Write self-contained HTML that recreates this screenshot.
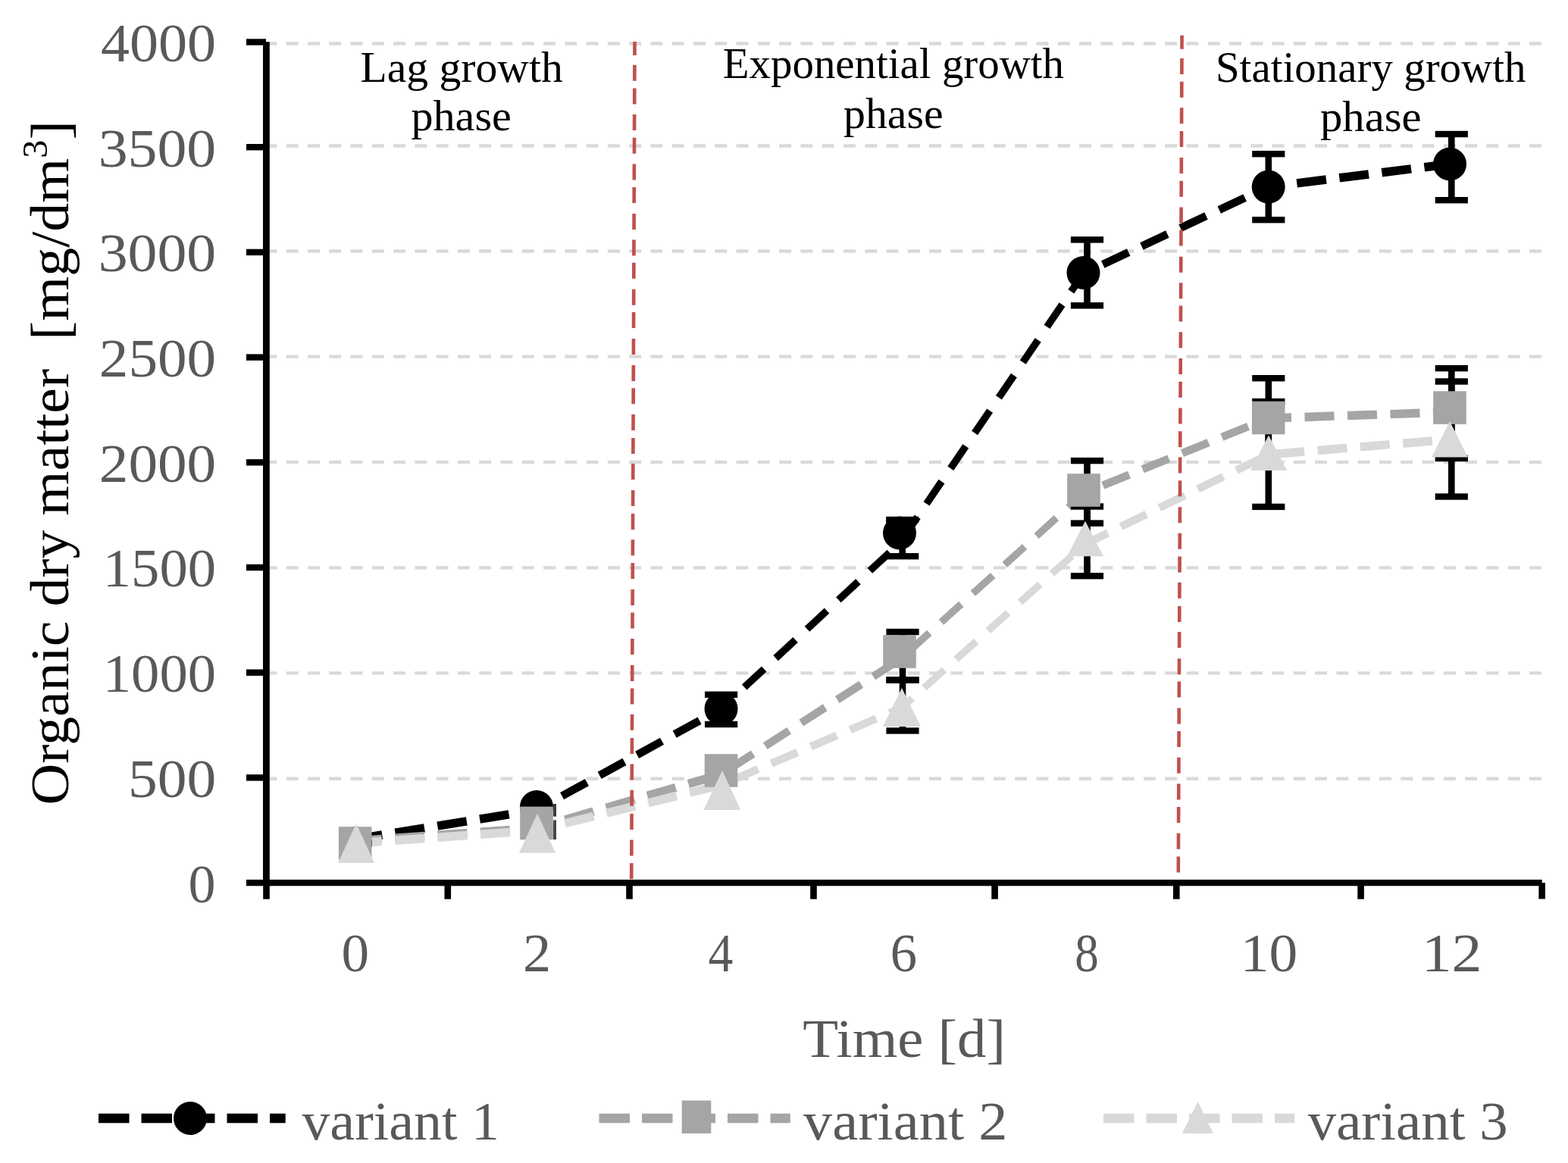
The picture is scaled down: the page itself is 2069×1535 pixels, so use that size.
<!DOCTYPE html>
<html><head><meta charset="utf-8"><title>Organic dry matter</title>
<style>
html,body{margin:0;padding:0;background:#fff;}
body{width:2069px;height:1535px;overflow:hidden;}
svg{display:block;}
</style></head>
<body>
<svg width="2069" height="1535" viewBox="0 0 2069 1535">
<rect width="2069" height="1535" fill="#fff"/>
<line x1="349.4" y1="57.5" x2="2035" y2="57.5" stroke="#d9d9d9" stroke-width="4.4" stroke-dasharray="16 12.28"/>
<line x1="349.4" y1="192.5" x2="2035" y2="192.5" stroke="#d9d9d9" stroke-width="4.4" stroke-dasharray="16 12.28"/>
<line x1="349.4" y1="331.5" x2="2035" y2="331.5" stroke="#d9d9d9" stroke-width="4.4" stroke-dasharray="16 12.28"/>
<line x1="349.4" y1="470.6" x2="2035" y2="470.6" stroke="#d9d9d9" stroke-width="4.4" stroke-dasharray="16 12.28"/>
<line x1="349.4" y1="609.9" x2="2035" y2="609.9" stroke="#d9d9d9" stroke-width="4.4" stroke-dasharray="16 12.28"/>
<line x1="349.4" y1="749.4" x2="2035" y2="749.4" stroke="#d9d9d9" stroke-width="4.4" stroke-dasharray="16 12.28"/>
<line x1="349.4" y1="888.4" x2="2035" y2="888.4" stroke="#d9d9d9" stroke-width="4.4" stroke-dasharray="16 12.28"/>
<line x1="349.4" y1="1027.8" x2="2035" y2="1027.8" stroke="#d9d9d9" stroke-width="4.4" stroke-dasharray="16 12.28"/>
<rect x="325" y="51.3" width="26" height="8.4" fill="#000000"/>
<rect x="325" y="190.0" width="26" height="8.4" fill="#000000"/>
<rect x="325" y="328.7" width="26" height="8.4" fill="#000000"/>
<rect x="325" y="467.4" width="26" height="8.4" fill="#000000"/>
<rect x="325" y="606.1" width="26" height="8.4" fill="#000000"/>
<rect x="325" y="744.8" width="26" height="8.4" fill="#000000"/>
<rect x="325" y="883.5" width="26" height="8.4" fill="#000000"/>
<rect x="325" y="1022.2" width="26" height="8.4" fill="#000000"/>
<rect x="347.2" y="1161" width="8.6" height="25.7" fill="#000000"/>
<rect x="586.5" y="1161" width="8.6" height="25.7" fill="#000000"/>
<rect x="826.2" y="1161" width="8.6" height="25.7" fill="#000000"/>
<rect x="1069.2" y="1161" width="8.6" height="25.7" fill="#000000"/>
<rect x="1308.3" y="1161" width="8.6" height="25.7" fill="#000000"/>
<rect x="1548.0" y="1161" width="8.6" height="25.7" fill="#000000"/>
<rect x="1791.3" y="1161" width="8.6" height="25.7" fill="#000000"/>
<rect x="2030.4" y="1165.2" width="8.5" height="21.3" fill="#000000"/>
<rect x="347" y="55.3" width="8.8" height="1113.9" fill="#000000"/>
<rect x="325" y="1161" width="1709.7" height="8.3" fill="#000000"/>
<text transform="translate(132.94,80.9) scale(1.0571,1)" x="0" y="0" style="font-family:'Liberation Serif',serif;font-size:72px;fill:#595959;">4000</text>
<text transform="translate(129.68,219.6) scale(1.0803,1)" x="0" y="0" style="font-family:'Liberation Serif',serif;font-size:72px;fill:#595959;">3500</text>
<text transform="translate(129.68,358.29999999999995) scale(1.0803,1)" x="0" y="0" style="font-family:'Liberation Serif',serif;font-size:72px;fill:#595959;">3000</text>
<text transform="translate(130.78,496.99999999999994) scale(1.0725,1)" x="0" y="0" style="font-family:'Liberation Serif',serif;font-size:72px;fill:#595959;">2500</text>
<text transform="translate(130.78,635.6999999999999) scale(1.0725,1)" x="0" y="0" style="font-family:'Liberation Serif',serif;font-size:72px;fill:#595959;">2000</text>
<text transform="translate(135.78,774.4) scale(1.0370,1)" x="0" y="0" style="font-family:'Liberation Serif',serif;font-size:72px;fill:#595959;">1500</text>
<text transform="translate(135.78,913.0999999999999) scale(1.0370,1)" x="0" y="0" style="font-family:'Liberation Serif',serif;font-size:72px;fill:#595959;">1000</text>
<text transform="translate(169.00,1051.8) scale(1.0762,1)" x="0" y="0" style="font-family:'Liberation Serif',serif;font-size:72px;fill:#595959;">500</text>
<text transform="translate(248.50,1190.5) scale(1.0000,1)" x="0" y="0" style="font-family:'Liberation Serif',serif;font-size:72px;fill:#595959;">0</text>
<text transform="translate(450.45,1282.4) scale(1.0167,1)" x="0" y="0" style="font-family:'Liberation Serif',serif;font-size:72px;fill:#595959;">0</text>
<text transform="translate(689.90,1282.4) scale(1.0345,1)" x="0" y="0" style="font-family:'Liberation Serif',serif;font-size:72px;fill:#595959;">2</text>
<text transform="translate(934.59,1282.4) scale(0.9118,1)" x="0" y="0" style="font-family:'Liberation Serif',serif;font-size:72px;fill:#595959;">4</text>
<text transform="translate(1174.86,1282.4) scale(0.9806,1)" x="0" y="0" style="font-family:'Liberation Serif',serif;font-size:72px;fill:#595959;">6</text>
<text transform="translate(1418.37,1282.4) scale(0.8767,1)" x="0" y="0" style="font-family:'Liberation Serif',serif;font-size:72px;fill:#595959;">8</text>
<text transform="translate(1636.71,1282.4) scale(1.0476,1)" x="0" y="0" style="font-family:'Liberation Serif',serif;font-size:72px;fill:#595959;">10</text>
<text transform="translate(1875.65,1282.4) scale(1.1081,1)" x="0" y="0" style="font-family:'Liberation Serif',serif;font-size:72px;fill:#595959;">12</text>
<text transform="translate(1059.23,1395.4) scale(1.0653,1)" x="0" y="0" style="font-family:'Liberation Serif',serif;font-size:72px;fill:#595959;">Time [d]</text>
<text transform="translate(475.58,107.6) scale(1.0111,1)" x="0" y="0" style="font-family:'Liberation Serif',serif;font-size:57px;fill:#000;">Lag growth</text>
<text transform="translate(542.48,172.3) scale(1.0197,1)" x="0" y="0" style="font-family:'Liberation Serif',serif;font-size:57px;fill:#000;">phase</text>
<text transform="translate(953.80,102.6) scale(0.9982,1)" x="0" y="0" style="font-family:'Liberation Serif',serif;font-size:57px;fill:#000;">Exponential growth</text>
<text transform="translate(1112.99,168.8) scale(1.0142,1)" x="0" y="0" style="font-family:'Liberation Serif',serif;font-size:57px;fill:#000;">phase</text>
<text transform="translate(1603.90,107.8) scale(0.9990,1)" x="0" y="0" style="font-family:'Liberation Serif',serif;font-size:57px;fill:#000;">Stationary growth</text>
<text transform="translate(1741.97,173) scale(1.0299,1)" x="0" y="0" style="font-family:'Liberation Serif',serif;font-size:57px;fill:#000;">phase</text>
<text transform="translate(398.40,1504) scale(1.0264,1)" x="0" y="0" style="font-family:'Liberation Serif',serif;font-size:72px;fill:#595959;">variant 1</text>
<text transform="translate(1060.00,1504) scale(1.0620,1)" x="0" y="0" style="font-family:'Liberation Serif',serif;font-size:72px;fill:#595959;">variant 2</text>
<text transform="translate(1725.70,1504) scale(1.0398,1)" x="0" y="0" style="font-family:'Liberation Serif',serif;font-size:72px;fill:#595959;">variant 3</text>
<text transform="translate(90,1062.46) rotate(-90) scale(1.0537,1)" x="0" y="0" style="font-family:'Liberation Serif',serif;font-size:72px;fill:#000;white-space:pre;">Organic dry matter  [mg/dm<tspan dy="-28" font-size="46">3</tspan><tspan dy="28">]</tspan></text>
<line x1="469" y1="1107.6" x2="708" y2="1069" stroke="#000000" stroke-width="11.5" stroke-dasharray="39.0 17.5" stroke-dashoffset="3.32"/>
<line x1="708" y1="1069" x2="951.5" y2="935.5" stroke="#000000" stroke-width="10.5" stroke-dasharray="37.5 19.0" stroke-dashoffset="18.23"/>
<line x1="951.5" y1="935.5" x2="1187" y2="717" stroke="#000000" stroke-width="9.6" stroke-dasharray="35.5 21.0" stroke-dashoffset="14.66"/>
<line x1="1187" y1="717" x2="1429.5" y2="361" stroke="#000000" stroke-width="9.6" stroke-dasharray="35.5 21.0" stroke-dashoffset="49.93"/>
<line x1="1429.5" y1="361" x2="1673.7" y2="246.6" stroke="#000000" stroke-width="10.5" stroke-dasharray="37.5 19.0" stroke-dashoffset="28.06"/>
<line x1="1673.7" y1="246.6" x2="1913" y2="216.5" stroke="#000000" stroke-width="11.5" stroke-dasharray="39.0 17.5" stroke-dashoffset="18.65"/>
<line x1="469" y1="1110" x2="708" y2="1093" stroke="#a5a5a5" stroke-width="11.5" stroke-dasharray="39.0 17.5" stroke-dashoffset="4.18"/>
<line x1="708" y1="1093" x2="951.5" y2="1022" stroke="#a5a5a5" stroke-width="11.5" stroke-dasharray="39.0 17.5" stroke-dashoffset="17.25"/>
<line x1="951.5" y1="1022" x2="1188" y2="870" stroke="#a5a5a5" stroke-width="10.5" stroke-dasharray="37.5 19.0" stroke-dashoffset="43.82"/>
<line x1="1188" y1="870" x2="1430" y2="651" stroke="#a5a5a5" stroke-width="9.6" stroke-dasharray="35.5 21.0" stroke-dashoffset="40.24"/>
<line x1="1430" y1="651" x2="1673.7" y2="552" stroke="#a5a5a5" stroke-width="10.5" stroke-dasharray="37.5 19.0" stroke-dashoffset="29.21"/>
<line x1="1673.7" y1="552" x2="1913" y2="544" stroke="#a5a5a5" stroke-width="11.5" stroke-dasharray="39.0 17.5" stroke-dashoffset="8.66"/>
<line x1="470" y1="1113" x2="708" y2="1096" stroke="#d9d9d9" stroke-width="11.5" stroke-dasharray="39.0 17.5" stroke-dashoffset="5.18"/>
<line x1="708" y1="1096" x2="951.5" y2="1036" stroke="#d9d9d9" stroke-width="11.5" stroke-dasharray="39.0 17.5" stroke-dashoffset="17.91"/>
<line x1="951.5" y1="1036" x2="1190" y2="934" stroke="#d9d9d9" stroke-width="10.5" stroke-dasharray="37.5 19.0" stroke-dashoffset="40.88"/>
<line x1="1190" y1="934" x2="1432" y2="718" stroke="#d9d9d9" stroke-width="9.6" stroke-dasharray="35.5 21.0" stroke-dashoffset="17.02"/>
<line x1="1432" y1="718" x2="1674" y2="600" stroke="#d9d9d9" stroke-width="10.5" stroke-dasharray="37.5 19.0" stroke-dashoffset="4.25"/>
<line x1="1674" y1="600" x2="1913" y2="580" stroke="#d9d9d9" stroke-width="11.5" stroke-dasharray="39.0 17.5" stroke-dashoffset="48.21"/>
<rect x="947.3" y="916.8" width="8.6" height="39.2" fill="#000000"/>
<rect x="930.0" y="912.6" width="43.2" height="8.4" fill="#000000"/>
<rect x="930.0" y="951.8" width="43.2" height="8.4" fill="#000000"/>
<rect x="1186.4" y="686.0" width="8.6" height="48.2" fill="#000000"/>
<rect x="1169.1" y="681.8" width="43.2" height="8.4" fill="#000000"/>
<rect x="1169.1" y="730.0" width="43.2" height="8.4" fill="#000000"/>
<rect x="1430.2" y="316.4" width="8.6" height="86.9" fill="#000000"/>
<rect x="1412.9" y="312.2" width="43.2" height="8.4" fill="#000000"/>
<rect x="1412.9" y="399.1" width="43.2" height="8.4" fill="#000000"/>
<rect x="1669.5" y="203.2" width="8.6" height="87.0" fill="#000000"/>
<rect x="1652.2" y="199.0" width="43.2" height="8.4" fill="#000000"/>
<rect x="1652.2" y="286.0" width="43.2" height="8.4" fill="#000000"/>
<rect x="1911.0" y="177.0" width="8.6" height="87.2" fill="#000000"/>
<rect x="1893.7" y="172.8" width="43.2" height="8.4" fill="#000000"/>
<rect x="1893.7" y="260.0" width="43.2" height="8.4" fill="#000000"/>
<rect x="1186.7" y="834.0" width="8.6" height="63.5" fill="#000000"/>
<rect x="1169.4" y="829.8" width="43.2" height="8.4" fill="#000000"/>
<rect x="1169.4" y="893.3" width="43.2" height="8.4" fill="#000000"/>
<rect x="1430.2" y="608.1" width="8.6" height="82.5" fill="#000000"/>
<rect x="1412.9" y="603.9" width="43.2" height="8.4" fill="#000000"/>
<rect x="1412.9" y="686.4" width="43.2" height="8.4" fill="#000000"/>
<rect x="1669.5" y="499.2" width="8.6" height="90.8" fill="#000000"/>
<rect x="1652.2" y="495.0" width="43.2" height="8.4" fill="#000000"/>
<rect x="1911.0" y="486.1" width="8.6" height="118.9" fill="#000000"/>
<rect x="1893.7" y="481.9" width="43.2" height="8.4" fill="#000000"/>
<rect x="1893.7" y="600.8" width="43.2" height="8.4" fill="#000000"/>
<rect x="1186.7" y="897.5" width="8.6" height="67.0" fill="#000000"/>
<rect x="1169.4" y="893.3" width="43.2" height="8.4" fill="#000000"/>
<rect x="1169.4" y="960.3" width="43.2" height="8.4" fill="#000000"/>
<rect x="1430.2" y="668.5" width="8.6" height="91.7" fill="#000000"/>
<rect x="1412.9" y="664.3" width="43.2" height="8.4" fill="#000000"/>
<rect x="1412.9" y="756.0" width="43.2" height="8.4" fill="#000000"/>
<rect x="1669.5" y="530.0" width="8.6" height="138.9" fill="#000000"/>
<rect x="1652.2" y="525.8" width="43.2" height="8.4" fill="#000000"/>
<rect x="1652.2" y="664.7" width="43.2" height="8.4" fill="#000000"/>
<rect x="1911.0" y="503.5" width="8.6" height="152.0" fill="#000000"/>
<rect x="1893.7" y="499.3" width="43.2" height="8.4" fill="#000000"/>
<rect x="1893.7" y="651.3" width="43.2" height="8.4" fill="#000000"/>
<circle cx="469" cy="1113" r="22" fill="#000000"/>
<circle cx="708" cy="1065" r="22" fill="#000000"/>
<circle cx="951.5" cy="935.5" r="22" fill="#000000"/>
<circle cx="1187" cy="703.5" r="22" fill="#000000"/>
<circle cx="1429.5" cy="360" r="22" fill="#000000"/>
<circle cx="1673.7" cy="246.6" r="22" fill="#000000"/>
<circle cx="1913" cy="216.5" r="22" fill="#000000"/>
<rect x="446.9" y="1091.2" width="43.6" height="43.6" fill="#a5a5a5"/>
<rect x="686.2" y="1064.6" width="43.6" height="43.6" fill="#a5a5a5"/>
<rect x="929.7" y="995.2" width="43.6" height="43.6" fill="#a5a5a5"/>
<rect x="1165.2" y="838.2" width="43.6" height="43.6" fill="#a5a5a5"/>
<rect x="1408.2" y="625.2" width="43.6" height="43.6" fill="#a5a5a5"/>
<rect x="1651.9" y="529.7" width="43.6" height="43.6" fill="#a5a5a5"/>
<rect x="1891.2" y="516.3" width="43.6" height="43.6" fill="#a5a5a5"/>
<rect x="730" y="1061" width="4" height="16.7" fill="#3c3c3c"/>
<rect x="730" y="1082.4" width="4" height="25.6" fill="#484848"/>
<polygon points="470,1087 494,1139 446,1139" fill="#d9d9d9"/>
<polygon points="709,1073.8 733,1125.7 685,1125.7" fill="#d9d9d9"/>
<polygon points="953,1016.8 977.5,1069 928.5,1069" fill="#d9d9d9"/>
<polygon points="1190,908 1215,959 1165,959" fill="#d9d9d9"/>
<polygon points="1432,687.8 1456,734.2 1408,734.2" fill="#d9d9d9"/>
<polygon points="1674,574.4 1698,621 1650,621" fill="#d9d9d9"/>
<polygon points="1913,556 1937,603.5 1889,603.5" fill="#d9d9d9"/>
<path d="M837.50 55.1L837.43 73.1M837.38 85.7L837.30 106.7M837.26 116.5L837.18 137.5M837.13 151.1L837.04 172.1M837.01 181.7L836.93 202.7M836.87 216.6L836.79 237.6M836.75 246.9L836.67 267.9M836.62 281.9L836.54 302.9M836.48 316.6L836.40 337.6M836.37 346.8L836.28 367.8M836.23 381.8L836.15 402.8M836.11 412.0L836.03 433.0M835.98 447.0L835.89 468.0M835.84 481.9L835.76 502.9M835.72 512.2L835.64 533.2M835.59 547.1L835.51 568.1M835.47 577.9L835.39 598.9M835.33 612.1L835.25 633.1M835.20 647.1L835.12 668.1M835.08 677.9L835.00 698.9M834.94 712.3L834.86 733.3M834.83 742.9L834.74 763.9M834.69 778.0L834.61 799.0M834.57 808.6L834.49 829.6M834.44 843.0L834.35 864.0M834.30 878.1L834.22 899.1M834.18 908.4L834.10 929.4M834.05 942.8L833.97 963.8M833.93 974.0L833.85 995.0M833.79 1008.4L833.71 1029.4M833.66 1042.8L833.58 1063.8M833.54 1074.1L833.46 1095.1M833.40 1108.5L833.32 1129.5M833.28 1139.3L833.20 1160.3" stroke="#c0504d" stroke-width="4.6" fill="none"/>
<path d="M1559.60 46.7L1559.52 64.7M1559.47 76.9L1559.38 97.9M1559.34 107.7L1559.24 128.7M1559.18 142.3L1559.09 163.3M1559.05 172.9L1558.96 193.9M1558.90 207.9L1558.81 228.9M1558.77 238.7L1558.68 259.7M1558.62 273.4L1558.52 294.4M1558.48 303.5L1558.39 324.5M1558.33 338.7L1558.24 359.7M1558.18 373.3L1558.09 394.3M1558.05 403.5L1557.96 424.5M1557.90 438.3L1557.81 459.3M1557.75 472.9L1557.66 493.9M1557.62 503.7L1557.52 524.7M1557.46 538.4L1557.37 559.4M1557.33 569.2L1557.24 590.2M1557.18 603.6L1557.09 624.6M1557.05 634.2L1556.96 655.2M1556.90 669.2L1556.81 690.2M1556.75 703.8L1556.66 724.8M1556.61 734.4L1556.52 755.4M1556.46 768.8L1556.37 789.8M1556.33 800.1L1556.24 821.1M1556.18 834.1L1556.09 855.1M1556.03 869.2L1555.94 890.2M1555.90 899.6L1555.80 920.6M1555.74 934.4L1555.65 955.4M1555.61 965.1L1555.52 986.1M1555.46 999.7L1555.37 1020.7M1555.31 1034.5L1555.22 1055.5M1555.18 1065.1L1555.09 1086.1M1555.03 1099.7L1554.94 1120.7M1554.89 1130.4L1554.80 1151.4" stroke="#c0504d" stroke-width="4.6" fill="none"/>
<line x1="130" y1="1476" x2="376.7" y2="1476" stroke="#000000" stroke-width="12.5" stroke-dasharray="40.5 16"/>
<circle cx="251" cy="1476" r="22" fill="#000000"/>
<line x1="790.5" y1="1476" x2="1042.8" y2="1476" stroke="#a5a5a5" stroke-width="12.5" stroke-dasharray="40.5 16"/>
<rect x="899.7" y="1452.5" width="38.6" height="43.5" fill="#a5a5a5"/>
<line x1="1456" y1="1476" x2="1708.3" y2="1476" stroke="#d9d9d9" stroke-width="12.5" stroke-dasharray="40.5 16"/>
<polygon points="1580.5,1454 1601.0,1496 1560.0,1496" fill="#d9d9d9"/>
</svg>
</body></html>
